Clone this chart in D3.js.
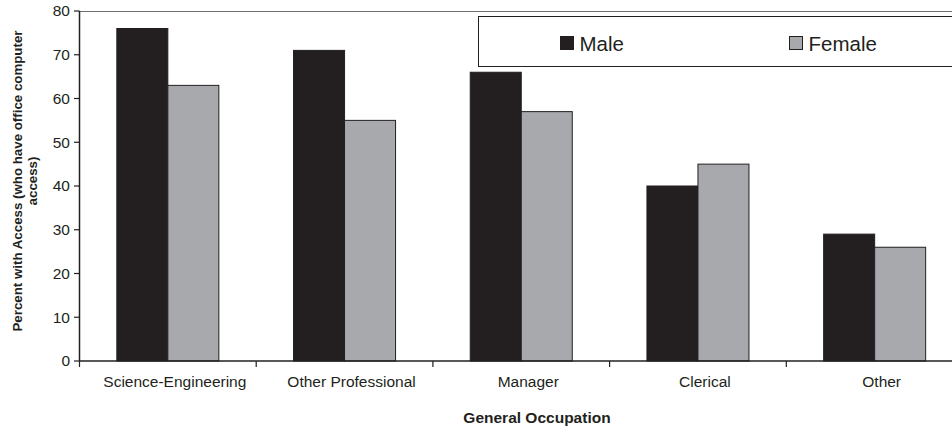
<!DOCTYPE html>
<html>
<head>
<meta charset="utf-8">
<script src="https://cdn.jsdelivr.net/npm/d3@7/dist/d3.min.js"></script>
<style>
  html, body { margin: 0; padding: 0; background: #fff; }
  svg { display: block; font-family: "Liberation Sans", Arial, sans-serif; }
</style>
</head>
<body>
<svg id="chart" width="952" height="430"></svg>
<script>
// Office computer access by occupation and sex
const categories = ["Science-Engineering", "Other Professional", "Manager", "Clerical", "Other"];
const seriesNames = ["Male", "Female"];
const maleValues = [76, 71, 66, 40, 29];
const femaleValues = [63, 55, 57, 45, 26];
const yTicks = [0, 10, 20, 30, 40, 50, 60, 70, 80];

const seriesValues = { Male: maleValues, Female: femaleValues };
const colors = { Male: "#231f20", Female: "#a7a9ac" };
const ink = "#231f20";

const svg = d3.select("#chart");

const plot = { left: 79.5, right: 963, top: 11, bottom: 361 };

const x0 = d3.scaleBand()
  .domain(categories)
  .range([plot.left, plot.right])
  .paddingInner(0.4227)
  .paddingOuter(0.2113);

const x1 = d3.scaleBand()
  .domain(seriesNames)
  .range([0, x0.bandwidth()]);

const y = d3.scaleLinear().domain([0, 80]).range([plot.bottom, plot.top]);

const step = (plot.right - plot.left) / categories.length;

// top frame line
svg.append("line")
  .attr("x1", plot.left).attr("x2", plot.right)
  .attr("y1", y(80) + 0.5).attr("y2", y(80) + 0.5)
  .attr("stroke", "#6d6e71").attr("stroke-width", 1.2);

// bars
const groups = svg.append("g").selectAll("g")
  .data(categories)
  .join("g")
  .attr("transform", d => `translate(${x0(d)},0)`);

groups.selectAll("rect")
  .data((d, i) => seriesNames.map(s => ({ s, v: seriesValues[s][i] })))
  .join("rect")
  .attr("x", d => x1(d.s))
  .attr("y", d => y(d.v))
  .attr("width", x1.bandwidth())
  .attr("height", d => y(0) - y(d.v))
  .attr("fill", d => colors[d.s])
  .attr("stroke", ink)
  .attr("stroke-width", 1);

// y axis
const yAxis = svg.append("g").attr("transform", `translate(${plot.left},0)`);
yAxis.append("line")
  .attr("x1", 0).attr("x2", 0)
  .attr("y1", y(80)).attr("y2", y(0))
  .attr("stroke", ink).attr("stroke-width", 1.5);
yAxis.selectAll("g.tick")
  .data(yTicks)
  .join("g")
  .attr("class", "tick")
  .attr("transform", d => `translate(0,${y(d)})`)
  .call(g => {
    g.append("line").attr("x1", -5.5).attr("x2", 0).attr("stroke", ink).attr("stroke-width", 1.2);
    g.append("text")
      .attr("x", -9.5).attr("dy", "0.35em")
      .attr("text-anchor", "end")
      .attr("font-size", 15.5)
      .attr("fill", ink)
      .text(d => d);
  });

// x axis baseline and category boundary ticks
svg.append("line")
  .attr("x1", plot.left).attr("x2", plot.right)
  .attr("y1", y(0)).attr("y2", y(0))
  .attr("stroke", ink).attr("stroke-width", 1.5);
svg.append("g").selectAll("line")
  .data(d3.range(categories.length + 1))
  .join("line")
  .attr("x1", i => plot.left + i * step)
  .attr("x2", i => plot.left + i * step)
  .attr("y1", y(0)).attr("y2", y(0) + 6)
  .attr("stroke", ink).attr("stroke-width", 1.2);

svg.append("g").selectAll("text")
  .data(categories)
  .join("text")
  .attr("x", d => x0(d) + x0.bandwidth() / 2 + 7)
  .attr("y", 386.5)
  .attr("text-anchor", "middle")
  .attr("font-size", 15.5)
  .attr("fill", ink)
  .text(d => d);

// axis titles
svg.append("text")
  .attr("x", 537).attr("y", 423)
  .attr("text-anchor", "middle")
  .attr("font-size", 15.5)
  .attr("font-weight", "bold")
  .attr("fill", ink)
  .text("General Occupation");

const yTitle = svg.append("text")
  .attr("transform", "translate(22,181) rotate(-90)")
  .attr("text-anchor", "middle")
  .attr("font-size", 13.3)
  .attr("font-weight", "bold")
  .attr("fill", ink);
yTitle.append("tspan").attr("x", 0).attr("y", 0).text("Percent with Access (who have office computer");
yTitle.append("tspan").attr("x", 0).attr("y", 15).text("access)");

// legend
const legend = svg.append("g");
legend.append("rect")
  .attr("x", 478.5).attr("y", 16.5)
  .attr("width", 520).attr("height", 50)
  .attr("fill", "#fff")
  .attr("stroke", ink).attr("stroke-width", 1);
const legendX = { Male: 560.5, Female: 789.5 };
seriesNames.forEach(s => {
  legend.append("rect")
    .attr("x", legendX[s]).attr("y", 36.5)
    .attr("width", 13).attr("height", 13)
    .attr("fill", colors[s])
    .attr("stroke", ink).attr("stroke-width", 1);
  legend.append("text")
    .attr("x", legendX[s] + 19).attr("y", 51)
    .attr("font-size", 20.5)
    .attr("fill", ink)
    .text(s);
});
</script>
</body>
</html>
